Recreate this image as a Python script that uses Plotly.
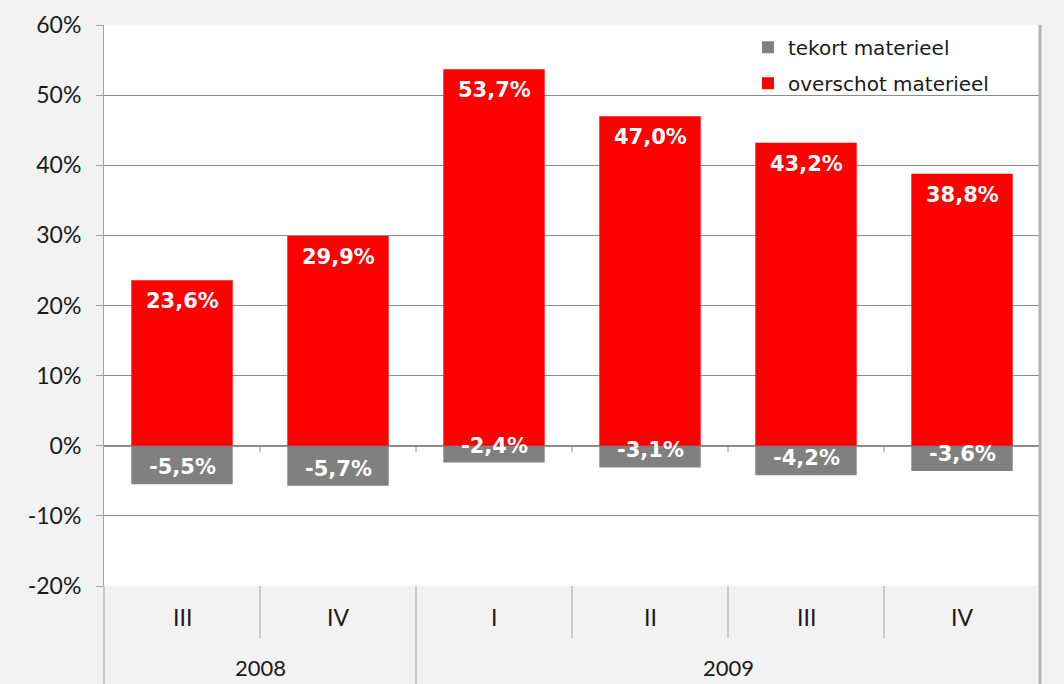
import plotly.graph_objects as go

quarters = ["III", "IV", "I", "II", "III", "IV"]
years = ["2008", "2008", "2009", "2009", "2009", "2009"]
tekort = [-5.5, -5.7, -2.4, -3.1, -4.2, -3.6]
overschot = [23.6, 29.9, 53.7, 47.0, 43.2, 38.8]
y_ticks = [-20, -10, 0, 10, 20, 30, 40, 50, 60]

RED = "#ff0000"
GRAY = "#808080"
GRID = "#8c8c8c"
xs = list(range(len(quarters)))

fig = go.Figure()
fig.add_trace(go.Bar(x=xs, y=tekort, name="tekort materieel", marker_color=GRAY,
                     marker_line_width=0, width=0.65, legendgroup="a"))
fig.add_trace(go.Bar(x=xs, y=overschot, name="overschot materieel", marker_color=RED,
                     marker_line_width=0, width=0.65, legendgroup="b"))

def fmt(v):
    return f"{v:.1f}".replace(".", ",") + "%"

lab_font = dict(family="DejaVu Sans", size=21, color="white")
for i in xs:
    fig.add_annotation(x=i, y=overschot[i], text="<b>" + fmt(overschot[i]) + "</b>",
                       showarrow=False, yshift=-21, font=lab_font)
    fig.add_annotation(x=i, y=tekort[i], text="<b>" + fmt(tekort[i]) + "</b>",
                       showarrow=False, yshift=17, font=lab_font)

axis_font = dict(family="Lato", size=23, color="#1a1a1a")
# quarter labels
for i in xs:
    fig.add_annotation(x=i, y=-0.055, xref="x", yref="paper", yanchor="middle",
                       text=quarters[i], showarrow=False, font=axis_font)
# year labels
groups = []
for i, yv in enumerate(years):
    if groups and groups[-1][0] == yv:
        groups[-1][2] = i
    else:
        groups.append([yv, i, i])
for yv, a, b in groups:
    fig.add_annotation(x=(a + b) / 2, y=-0.146, xref="x", yref="paper", yanchor="middle",
                       text=yv, showarrow=False,
                       font=dict(family="Lato", size=22, color="#1a1a1a"))

# dividers
line_style = dict(color="#a0a0a0", width=1)
for i in range(1, len(xs)):
    is_year = years[i] != years[i - 1]
    fig.add_shape(type="line", xref="x", yref="paper", x0=i - 0.5, x1=i - 0.5,
                  y0=0, y1=-0.18 if is_year else -0.093, line=line_style)
    fig.add_shape(type="line", xref="x", yref="y", x0=i - 0.5, x1=i - 0.5,
                  y0=0, y1=-0.9, line=dict(color=GRID, width=1))
fig.add_shape(type="line", xref="paper", yref="paper", x0=0, x1=0, y0=0, y1=-0.18,
              line=line_style)
fig.add_shape(type="line", xref="paper", yref="paper", x0=1, x1=1, y0=1, y1=-0.18,
              line=dict(color="#b4b4b4", width=3))

fig.update_layout(
    width=1064, height=684,
    margin=dict(l=104, r=24, t=25, b=98),
    paper_bgcolor="#f2f2f2", plot_bgcolor="white",
    barmode="relative", bargap=0.35,
    showlegend=True,
    legend=dict(x=0.688, y=0.995, xanchor="left", yanchor="top",
                bgcolor="rgba(0,0,0,0)", traceorder="grouped", tracegroupgap=7,
                font=dict(family="DejaVu Sans", size=20, color="#1a1a1a"),
                itemwidth=30),
    xaxis=dict(range=[-0.5, len(xs) - 0.5], showticklabels=False, showgrid=False,
               zeroline=False, ticks="", fixedrange=True, automargin=False),
    yaxis=dict(range=[-20, 60], tickvals=y_ticks, ticktext=[f"{v}%" for v in y_ticks],
               showgrid=True, gridcolor=GRID, gridwidth=1,
               zeroline=True, zerolinecolor=GRID, zerolinewidth=2,
               showline=True, linecolor="#a0a0a0", linewidth=1,
               ticks="outside", ticklen=7, tickcolor="#a0a0a0",
               ticklabelstandoff=10, automargin=False,
               tickfont=dict(family="Lato", size=23, color="#1a1a1a")),
)

fig.write_html("out.html", config={"displayModeBar": False},
               post_script="document.body.style.margin='0';document.body.style.background='#f2f2f2';")
